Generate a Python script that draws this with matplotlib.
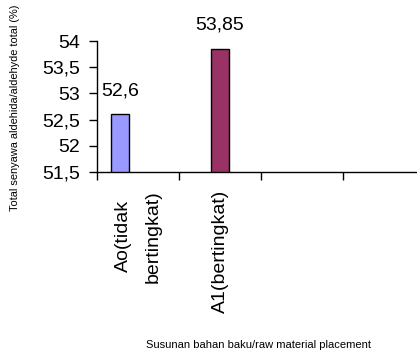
import matplotlib
matplotlib.use("Agg")
import matplotlib.pyplot as plt

plt.rcParams["font.family"] = ["Liberation Sans", "DejaVu Sans"]

# data
categories = ["Ao(tidak\nbertingkat)", "A1(bertingkat)"]
values = [52.6, 53.85]
value_labels = ["52,6", "53,85"]
series_slot = [0, 1]          # excel-style 3-series group, slot per bar
colors = ["#9999FF", "#993366"]
y_ticks = [51.5, 52, 52.5, 53, 53.5, 54]
y_ticklabels = ["51,5", "52", "52,5", "53", "53,5", "54"]

fig = plt.figure(figsize=(4.17, 3.52), dpi=100)
ax = fig.add_axes([97 / 417, 1 - 172 / 352, 1 - 97 / 417, (172 - 41) / 352])

bw = 0.22
for i, (v, s, c) in enumerate(zip(values, series_slot, colors)):
    x = i + 0.5 + (s - 1) * bw
    ax.bar(x, v - 51.5, bottom=51.5, width=bw, color=c, edgecolor="black",
           linewidth=1.0, zorder=3)
    ax.annotate(value_labels[i], (x, v), xytext=(0, 11), textcoords="offset points",
                ha="center", va="bottom", fontsize=14, annotation_clip=False)

ax.set_ylim(51.5, 54)
ax.set_yticks(y_ticks)
ax.set_yticklabels(y_ticklabels, fontsize=14)
ax.set_xlim(0, 3.9)
ax.set_xticks([0, 1, 2, 3])
ax.set_xticklabels([])
ax.set_xticks([i + 0.5 for i in range(len(categories))], minor=True)
ax.set_xticklabels(categories, minor=True, rotation=90, fontsize=14,
                   va="top", ha="center", multialignment="center", linespacing=1.95)
ax.tick_params(axis="x", which="minor", length=0, pad=13)
ax.tick_params(axis="both", which="major", length=6, width=1, direction="out")
ax.tick_params(axis="y", pad=6)
for sp in ["top", "right"]:
    ax.spines[sp].set_visible(False)
for sp in ["left", "bottom"]:
    ax.spines[sp].set_linewidth(1)

fig.text(15 / 417, 1 - 108 / 352, "Total senyawa aldehida/aldehyde total (%)",
         rotation=90, ha="center", va="center", fontsize=7.9)
fig.text(259 / 417, 1 - 345 / 352, "Susunan bahan baku/raw material placement",
         ha="center", va="center", fontsize=8)

fig.savefig("out.png", dpi=100)
